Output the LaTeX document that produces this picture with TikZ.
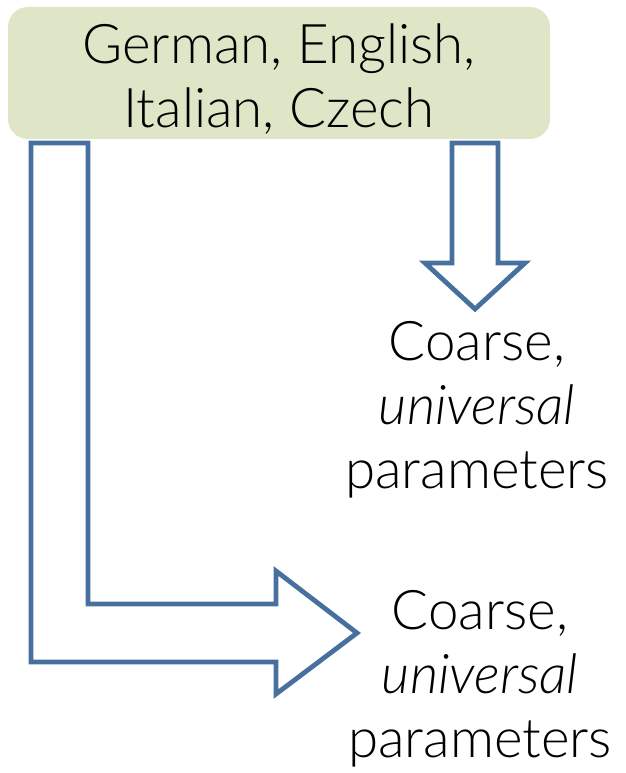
\documentclass[tikz,border=0pt]{standalone}
\usepackage{fontspec}
\setmainfont{Lato}[UprightFont=* Light, ItalicFont=* Light Italic]
\usepackage{tikz}
\usetikzlibrary{positioning,calc}
\usepackage{xcolor}
\definecolor{boxgreen}{RGB}{222,230,199}
\definecolor{arrowblue}{RGB}{72,112,158}

\begin{document}
\begin{tikzpicture}[x=0.75pt,y=-0.75pt,
    bigtext/.style={font=\fontsize{41}{48}\selectfont, align=center, inner sep=0pt},
    blockarrow/.style={draw=arrowblue, line width=3.6pt, fill=white, line join=miter}]
    \useasboundingbox (0,0) rectangle (625,773);
    % Language box
    \fill[boxgreen, rounded corners=15pt] (8,7) rectangle (550,139);
    \node[bigtext] (langs) at (279,79) {German, English,\\Italian, Czech};
    % Straight arrow
    \draw[blockarrow] (452,143) -- (498,143) -- (498,263) -- (525,263)
        -- (475,309) -- (425,263) -- (452,263) -- cycle;
    \node[bigtext] (upper) at (477,410) {Coarse,\\\textit{universal}\\parameters};
    % Bent arrow
    \draw[blockarrow] (31,143) -- (88,143) -- (88,604) -- (276,604) -- (276,571)
        -- (357,633) -- (276,694) -- (276,662) -- (31,662) -- cycle;
    \node[bigtext] (lower) at (480,679) {Coarse,\\\textit{universal}\\parameters};
\end{tikzpicture}
\end{document}
